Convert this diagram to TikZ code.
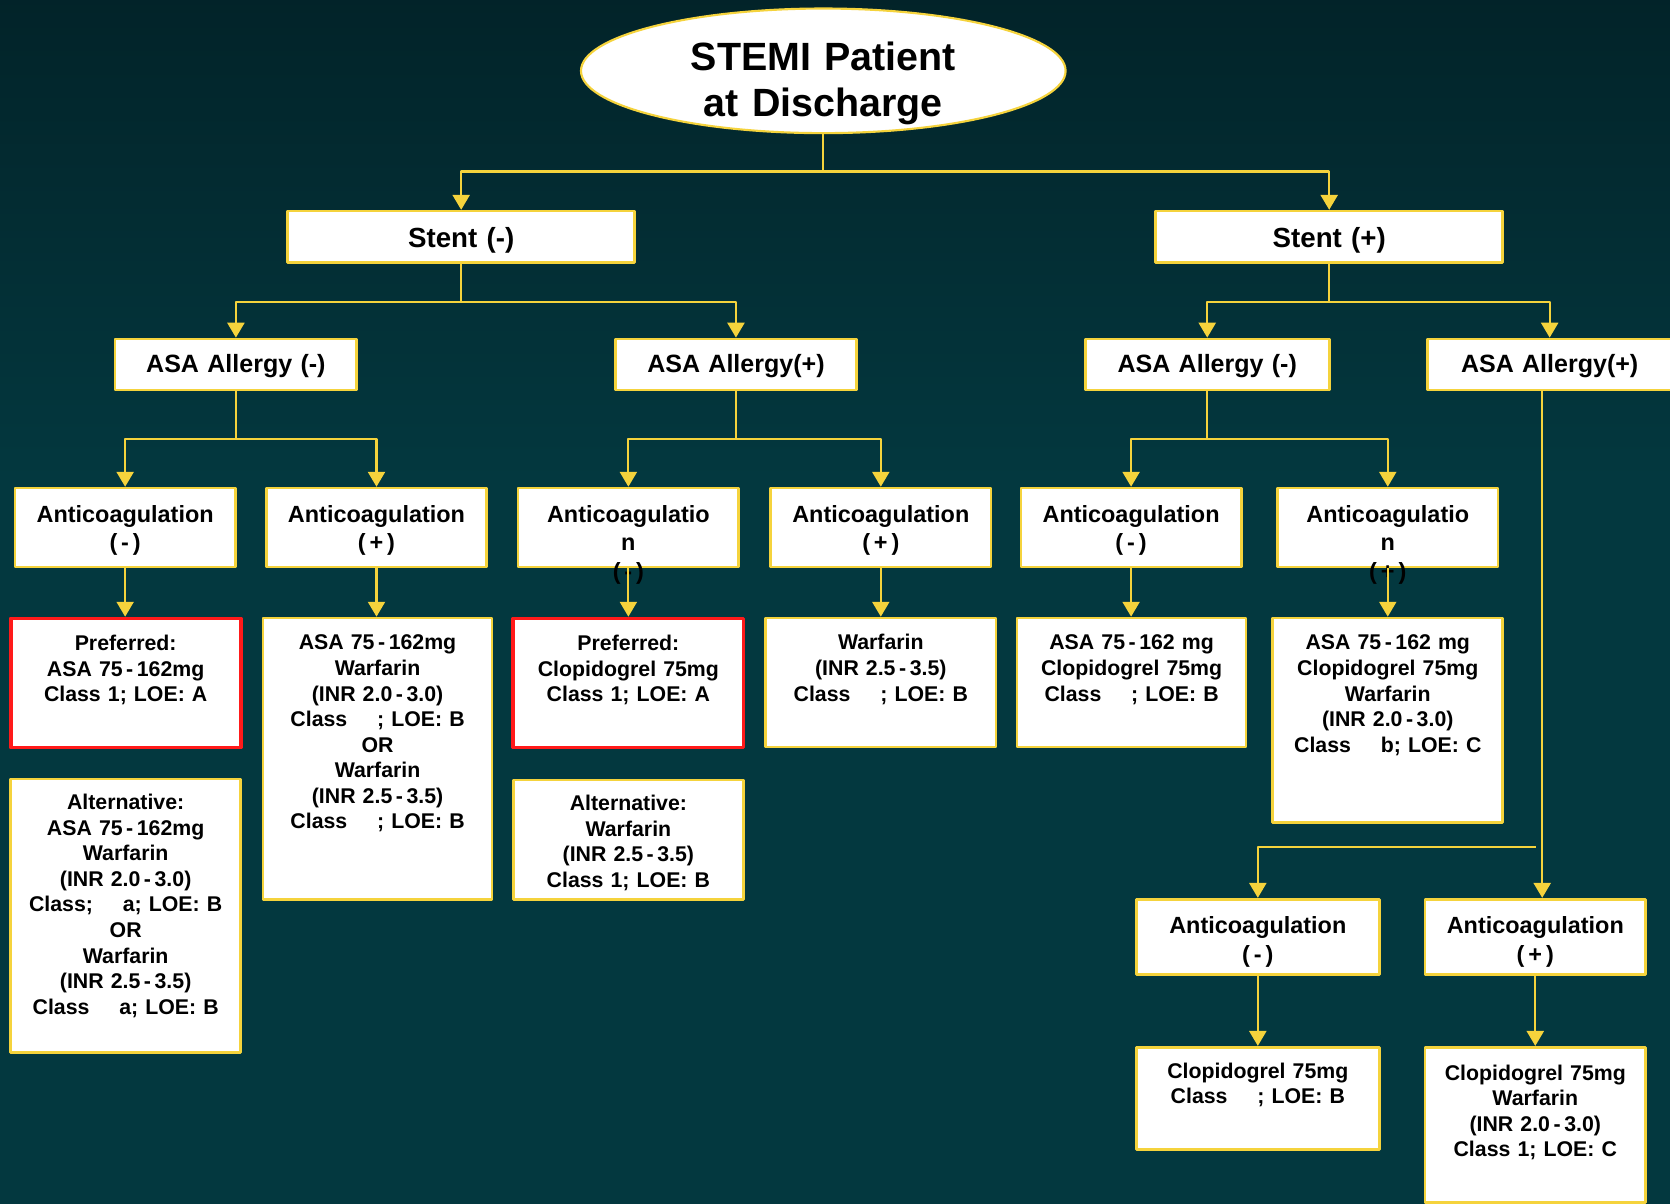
\documentclass[tikz,border=0pt]{standalone}
\usepackage{fontspec}
\setmainfont{Liberation Sans}
\usetikzlibrary{shapes.geometric,arrows.meta}
\definecolor{gold}{HTML}{F5D33C}
\definecolor{redline}{HTML}{FF1A1A}
\definecolor{bgtop}{HTML}{021A1F}
\definecolor{bgmid}{HTML}{03383F}
\definecolor{bgbot}{HTML}{02222A}
\pgfdeclareverticalshading{bgfade}{100bp}{color(0bp)=(bgbot); color(22bp)=(bgmid); color(55bp)=(bgmid); color(84bp)=(bgtop); color(100bp)=(bgtop)}
\newcommand{\clgap}{\hspace{1.4em}}

\begin{document}
\begin{tikzpicture}[x=1pt,y=-1pt,line join=round,>={Triangle[width=16pt,length=14pt]},
	conn/.style={draw=gold,line width=2pt},
	box/.style={draw=gold,line width=2.5pt,fill=white,anchor=north,inner sep=0pt,align=center},
	stentbox/.style={box,text width=326pt,text height=34pt,text depth=14pt,font=\fontsize{26}{31}\selectfont\bfseries},
	allergybox/.style={box,text height=31.5pt,text depth=16.5pt,font=\fontsize{23.5}{28}\selectfont\bfseries},
	anticbox/.style={box,text width=207pt,text height=32pt,text depth=42pt,font=\fontsize{22}{27}\selectfont\bfseries},
	drugbox/.style={box,text width=216pt,text height=30pt,font=\fontsize{20}{24}\selectfont\bfseries},
	prefbox/.style={drugbox,draw=redline,line width=3.5pt}]
		\useasboundingbox (0,0) rectangle (1568,1130);
		\shade[shading=bgfade] (0,0) rectangle (1568,1130);
		\node[ellipse,draw=gold,line width=2pt,fill=white,minimum width=455pt,minimum height=117pt,inner sep=0pt,text width=280pt,align=center,text height=20pt,text depth=20pt,font=\fontsize{37}{43}\selectfont\bfseries] (root) at (773,66.5) {STEMI Patient\\at Discharge};
		\node[stentbox] (stN) at (433,197) {Stent (-)};
		\node[stentbox] (stP) at (1248,197) {Stent (+)};
		\node[allergybox,text width=227pt] (alN1) at (221.5,317) {ASA Allergy (-)};
		\node[allergybox,text width=226pt] (alP1) at (691,317) {ASA Allergy(+)};
		\node[allergybox,text width=229pt] (alN2) at (1133.5,317) {ASA Allergy (-)};
		\node[allergybox,text width=230pt] (alP2) at (1455,317) {ASA Allergy(+)};
		\node[anticbox] (ac1) at (117.5,457) {Anticoagulation\\(\,-\,)};
		\node[anticbox] (ac2) at (353.5,457) {Anticoagulation\\(\,+\,)};
		\node[anticbox] (ac3) at (590,457) {Anticoagulatio\\n\\(\,-\,)};
		\node[anticbox] (ac4) at (827,457) {Anticoagulation\\(\,+\,)};
		\node[anticbox] (ac5) at (1062,457) {Anticoagulation\\(\,-\,)};
		\node[anticbox] (ac6) at (1303,457) {Anticoagulatio\\n\\(\,+\,)};
		\node[anticbox,text width=228pt,text depth=39pt] (ac7) at (1181,843) {Anticoagulation\\(\,-\,)};
		\node[anticbox,text depth=39pt] (ac8) at (1441.5,843) {Anticoagulation\\(\,+\,)};
		\node[prefbox,text depth=91pt] (rx1) at (118,579) {Preferred:\\ASA 75\,-\,162mg\\Class 1; LOE: A};
		\node[drugbox,text width=215pt,text depth=234pt] (rx2) at (354.5,579) {ASA 75\,-\,162mg\\Warfarin\\(INR 2.0\,-\,3.0)\\Class\clgap; LOE: B\\OR\\Warfarin\\(INR 2.5\,-\,3.5)\\Class\clgap; LOE: B};
		\node[prefbox,text depth=91pt] (rx3) at (590,579) {Preferred:\\Clopidogrel 75mg\\Class 1; LOE: A};
		\node[drugbox,text depth=91pt] (rx4) at (827,579) {Warfarin\\(INR 2.5\,-\,3.5)\\Class\clgap; LOE: B};
		\node[drugbox,text width=215pt,text depth=91pt] (rx5) at (1062.5,579) {ASA 75\,-\,162 mg\\Clopidogrel 75mg\\Class\clgap; LOE: B};
		\node[drugbox,text depth=162pt] (rx6) at (1303,579) {ASA 75\,-\,162 mg\\Clopidogrel 75mg\\Warfarin\\(INR 2.0\,-\,3.0)\\Class\clgap b; LOE: C};
		\node[drugbox,text height=29pt,text depth=228pt] (alt1) at (118,730) {Alternative:\\ASA 75\,-\,162mg\\Warfarin\\(INR 2.0\,-\,3.0)\\Class;\clgap a; LOE: B\\OR\\Warfarin\\(INR 2.5\,-\,3.5)\\Class\clgap a; LOE: B};
		\node[drugbox,text height=29pt,text depth=83pt] (alt3) at (590,731) {Alternative:\\Warfarin\\(INR 2.5\,-\,3.5)\\Class 1; LOE: B};
		\node[drugbox,text width=228pt,text height=29pt,text depth=67pt] (rx7) at (1181,982) {Clopidogrel 75mg\\Class\clgap; LOE: B};
		\node[drugbox,text width=207pt,text height=31pt,text depth=115pt] (rx8) at (1441.5,982) {Clopidogrel 75mg\\Warfarin\\(INR 2.0\,-\,3.0)\\Class 1; LOE: C};
		\draw[conn,->] (root.south) -- ++(0,35) -| (stN.north);
		\draw[conn,->] (root.south) -- ++(0,35) -| (stP.north);
		\draw[conn,->] (stN.south) -- ++(0,36) -| (alN1.north);
		\draw[conn,->] (stN.south) -- ++(0,36) -| (alP1.north);
		\draw[conn,->] (stP.south) -- ++(0,36) -| (alN2.north);
		\draw[conn,->] (stP.south) -- ++(0,36) -| (alP2.north);
		\draw[conn,->] (alN1.south) -- ++(0,45) -| (ac1.north);
		\draw[conn,->] (alN1.south) -- ++(0,45) -| (ac2.north);
		\draw[conn,->] (alP1.south) -- ++(0,45) -| (ac3.north);
		\draw[conn,->] (alP1.south) -- ++(0,45) -| (ac4.north);
		\draw[conn,->] (alN2.south) -- ++(0,45) -| (ac5.north);
		\draw[conn,->] (alN2.south) -- ++(0,45) -| (ac6.north);
		\draw[conn,->] ([xshift=-7pt]alP2.south) -- ([xshift=-7pt]alP2.south |- ac8.north);
		\coordinate (split) at (1442,795);
		\draw[conn,->] (split) -| (ac7.north);
		\draw[conn,->] (ac1.south) -- (ac1.south |- rx1.north);
		\draw[conn,->] (ac2.south) -- (ac2.south |- rx2.north);
		\draw[conn,->] (ac3.south) -- (ac3.south |- rx3.north);
		\draw[conn,->] (ac4.south) -- (ac4.south |- rx4.north);
		\draw[conn,->] (ac5.south) -- (ac5.south |- rx5.north);
		\draw[conn,->] (ac6.south) -- (ac6.south |- rx6.north);
		\draw[conn,->] (ac7.south) -- (ac7.south |- rx7.north);
		\draw[conn,->] (ac8.south) -- (ac8.south |- rx8.north);
	\end{tikzpicture}
\end{document}
